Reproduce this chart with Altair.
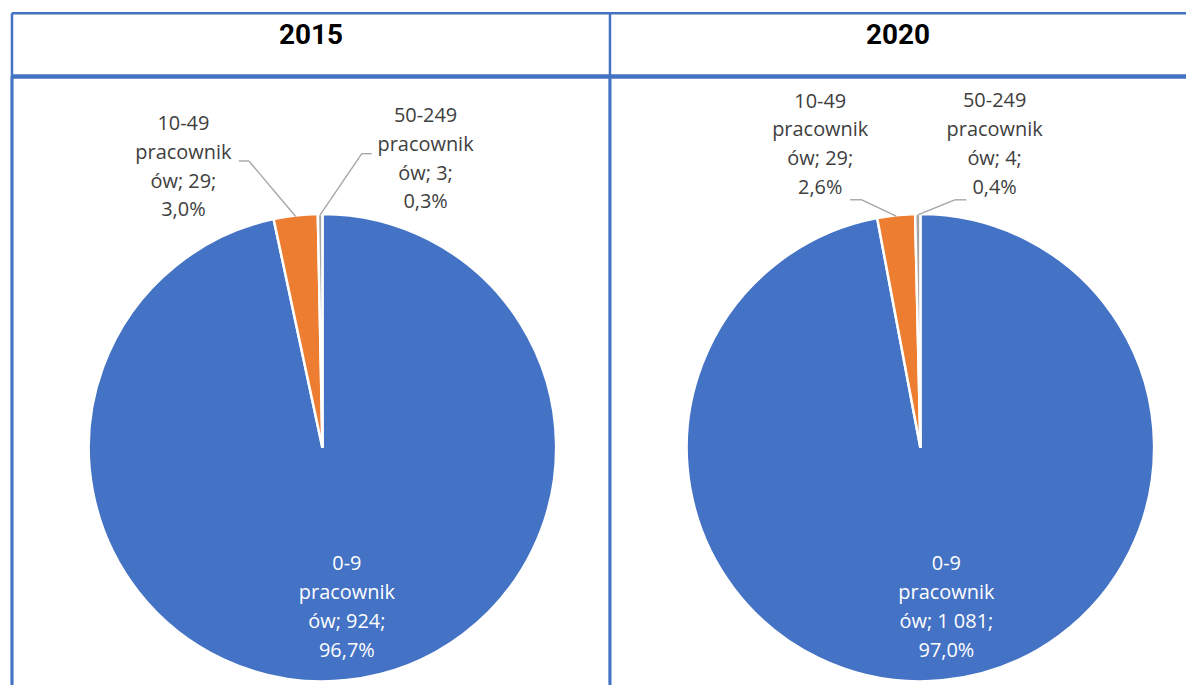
import altair as alt
import pandas as pd

# ---------------- data ----------------
years = ["2015", "2020"]
categories = ["0-9", "10-49", "50-249"]
counts_2015 = [924, 29, 3]
counts_2020 = [1081, 29, 4]
percents_2015 = [96.7, 3.0, 0.3]
percents_2020 = [97.0, 2.6, 0.4]
counts = {"2015": counts_2015, "2020": counts_2020}
percents = {"2015": percents_2015, "2020": percents_2020}

# ---------------- style / layout ----------------
COLORS = ["#4472C4", "#ED7D31", "#A5A5A5"]
BORDER = "#4472C4"
TEXT = "#404040"
LEADER = "#A6A6A6"
FONT = "Open Sans"
HEAD_FONT = "Roboto"
FS = 20
LH = 29
NLINES = 4
BLOCK = -(NLINES - 1) / 2 * LH   # shift so the 4-line block is centred

COL_W = [600, 578]
HEAD_H = 63
PIE_H = 611
CX, CY = 311.5, 373
R_ARC = 234.5
R_EDGE = 233.5
BW = 2.5

# label nudges (pixels) relative to the slice's outer mid-point
LAYOUT = {
    "2015": {
        "inner": (7.5, -1),
        "lab": {1: (-112.7, -49.5), 2: (105.8, -56)},
        "elbow": {1: (-47, -55.7, -57), 2: (41.8, -61.5, 51.8)},
    },
    "2020": {
        "inner": (11, -1),
        "lab": {1: (-76.2, -71.5), 2: (77.1, -70.5)},
        "elbow": {1: (-34.5, -16.5, -46.2), 2: (37.1, -15.2, 48.8)},
    },
}


def fmt_int(n):
    return f"{n:,}".replace(",", " ")


def header(year, w):
    df = pd.DataFrame({"year": [year]})
    t = alt.Chart(df).mark_text(
        font=HEAD_FONT, fontWeight="bold", fontSize=28,
        color="black", baseline="middle", align="center", dy=-9,
    ).encode(text="year:N")
    top = alt.Chart(df).mark_rule(color=BORDER, strokeWidth=BW).encode(
        x=alt.value(0), x2=alt.value(w), y=alt.value(0)
    )
    left = alt.Chart(df).mark_rule(color=BORDER, strokeWidth=BW).encode(
        x=alt.value(0), y=alt.value(0), y2=alt.value(HEAD_H)
    )
    sep = alt.Chart(df).mark_rule(color=BORDER, strokeWidth=4.5).encode(
        x=alt.value(0), x2=alt.value(w), y=alt.value(HEAD_H + 0.5)
    )
    return alt.layer(t, top, left, sep).properties(width=w, height=HEAD_H)


def pie(year, w):
    lay = LAYOUT[year]
    df = pd.DataFrame({
        "idx": [0, 1, 2],
        "category": categories,
        "count": counts[year],
        "label": [
            [c, "pracownik", f"ów; {fmt_int(n)};", f"{p:.1f}%".replace(".", ",")]
            for c, n, p in zip(categories, counts[year], percents[year])
        ],
    })
    left = alt.Chart(df).mark_rule(color=BORDER, strokeWidth=BW).encode(
        x=alt.value(0), y=alt.value(0), y2=alt.value(PIE_H)
    )
    base = alt.Chart(df).encode(
        theta=alt.Theta("count:Q", stack=True),
        order=alt.Order("idx:Q"),
        detail=alt.Detail("category:N"),
    )
    arcs = base.mark_arc(
        x=CX, y=CY, outerRadius=R_ARC, stroke="white", strokeWidth=2.5
    ).encode(
        color=alt.Color("category:N", scale=alt.Scale(domain=categories, range=COLORS), legend=None)
    )
    layers = [left, arcs]
    # inner label
    layers.append(
        base.transform_calculate(t="datum.idx == 0 ? datum.label : ''").mark_text(
            x=CX, y=CY, radius=162, dx=lay["inner"][0], dy=lay["inner"][1] + BLOCK,
            color="white", font=FONT, fontSize=FS, lineHeight=LH,
            align="center", baseline="middle",
        ).encode(text="t:N")
    )
    # outside labels
    for k in (1, 2):
        dx, dy = lay["lab"][k]
        layers.append(
            base.transform_calculate(t=f"datum.idx == {k} ? datum.label : ''").mark_text(
                x=CX, y=CY, radius=R_EDGE, dx=dx, dy=dy + BLOCK,
                color=TEXT, font=FONT, fontSize=FS, lineHeight=LH,
                align="center", baseline="middle",
            ).encode(text="t:N")
        )
    # leader lines
    e = lay["elbow"]
    lead = alt.Chart(df).transform_joinaggregate(
        total="sum(count)"
    ).transform_window(
        cum="sum(count)", sort=[alt.SortField("idx")], frame=[None, 0]
    ).transform_calculate(
        mid="(datum.cum - datum.count / 2) / datum.total * 2 * PI",
    ).transform_calculate(
        ex=f"{CX} + {R_EDGE} * sin(datum.mid)",
        ey=f"{CY} - {R_EDGE} * cos(datum.mid)",
    ).transform_calculate(
        bx=f"datum.ex + (datum.idx == 1 ? {e[1][0]} : {e[2][0]})",
        by=f"datum.ey + (datum.idx == 1 ? {e[1][1]} : {e[2][1]})",
        lx=f"datum.ex + (datum.idx == 1 ? {e[1][2]} : {e[2][2]})",
    ).transform_filter("datum.idx > 0")
    diag = lead.mark_rule(color=LEADER, strokeWidth=1.4).encode(
        x=alt.X("ex:Q", scale=None, axis=None),
        y=alt.Y("ey:Q", scale=None, axis=None),
        x2="bx:Q", y2="by:Q",
    )
    horiz = lead.mark_rule(color=LEADER, strokeWidth=1.4).encode(
        x=alt.X("bx:Q", scale=None, axis=None),
        y=alt.Y("by:Q", scale=None, axis=None),
        x2="lx:Q", y2="by:Q",
    )
    layers += [diag, horiz]
    return alt.layer(*layers).properties(width=w, height=PIE_H)


panels = [header(y, w) for y, w in zip(years, COL_W)] + \
         [pie(y, w) for y, w in zip(years, COL_W)]
chart = alt.concat(*panels, columns=2, spacing=0, bounds="flush").properties(
    padding={"left": 1, "top": 2, "right": 0, "bottom": 0}
).configure(font=FONT).configure_view(stroke="transparent", strokeWidth=0)

chart.save("out.html", embed_options={"renderer": "svg", "actions": False})
